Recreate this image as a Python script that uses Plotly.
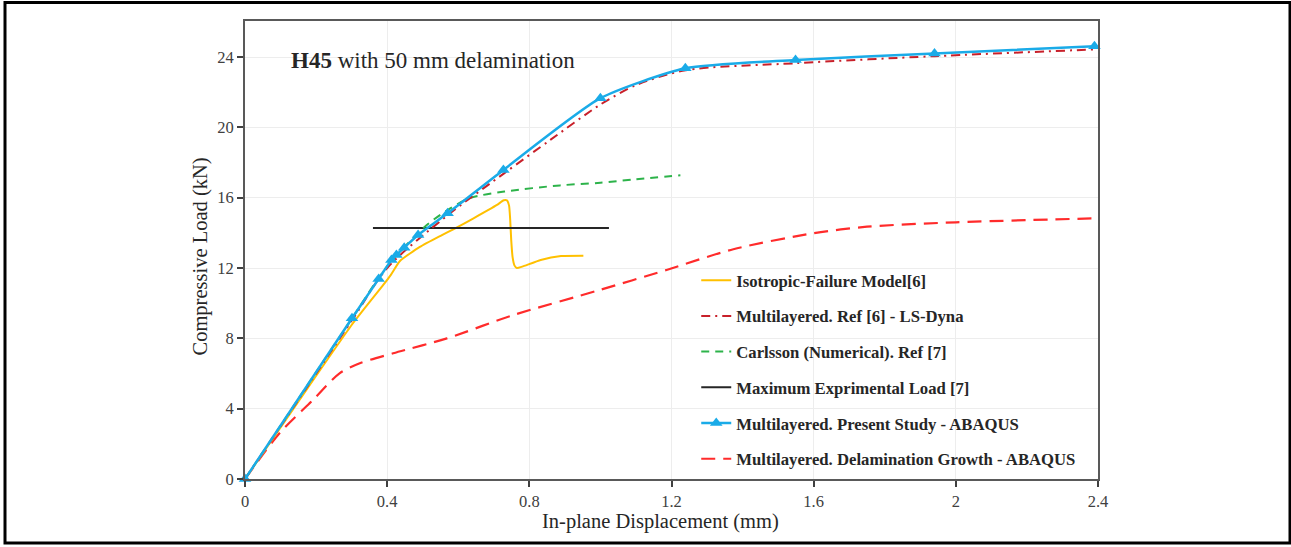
import plotly.graph_objects as go

# ---- data ----
iso_x = [0, 0.15, 0.30, 0.389, 0.41, 0.436, 0.492, 0.549, 0.586, 0.643, 0.709, 0.728, 0.737, 0.743, 0.746, 0.749, 0.753, 0.758, 0.765, 0.78, 0.832, 0.889, 0.952]
iso_y = [0, 4.4, 8.76, 11.04, 11.6, 12.4, 13.2, 13.82, 14.2, 14.83, 15.59, 15.85, 15.85, 15.55, 14.8, 13.6, 12.6, 12.15, 12.0, 12.08, 12.46, 12.68, 12.7]

dyna_x = [0, 0.30, 0.40, 0.57, 0.73, 0.86, 1.0, 1.1, 1.24, 1.55, 1.94, 2.4]
dyna_y = [0, 9.0, 12.0, 15.0, 17.4, 19.3, 21.3, 22.4, 23.25, 23.65, 24.05, 24.44]

carl_x = [0, 0.30, 0.40, 0.506, 0.57, 0.633, 0.73, 0.886, 1.0, 1.1, 1.225]
carl_y = [0, 9.1, 12.1, 14.35, 15.3, 15.98, 16.35, 16.7, 16.85, 17.05, 17.27]

exp_x = [0.36, 1.024]
exp_y = [14.28, 14.28]

abq_x = [0, 0.301, 0.376, 0.412, 0.426, 0.448, 0.487, 0.570, 0.727, 1.0, 1.239, 1.549, 1.94, 2.39]
abq_y = [0, 9.14, 11.38, 12.46, 12.74, 13.16, 13.88, 15.11, 17.58, 21.66, 23.36, 23.83, 24.2, 24.62]

delam_x = [0, 0.097, 0.191, 0.266, 0.323, 0.417, 0.568, 0.756, 0.998, 1.186, 1.374, 1.6, 1.75, 2.0, 2.4]
delam_y = [0, 2.6, 4.49, 6.01, 6.58, 7.15, 8.0, 9.33, 10.75, 11.89, 13.07, 13.98, 14.35, 14.6, 14.83]

x_ticks = [0, 0.4, 0.8, 1.2, 1.6, 2, 2.4]
y_ticks = [0, 4, 8, 12, 16, 20, 24]

names = [
    "Isotropic-Failure Model[6]",
    "Multilayered. Ref [6] - LS-Dyna",
    "Carlsson (Numerical). Ref [7]",
    "Maximum Exprimental Load [7]",
    "Multilayered. Present Study - ABAQUS",
    "Multilayered. Delamination Growth - ABAQUS",
]

fig = go.Figure()

fig.add_trace(go.Scatter(x=delam_x, y=delam_y, mode="lines", name=names[5],
                         line=dict(color="#FF2B2B", width=2.2, dash="14px,8px", shape="spline", smoothing=0.8),
                         legendrank=6, legendgroup="g6"))
fig.add_trace(go.Scatter(x=iso_x, y=iso_y, mode="lines", name=names[0],
                         line=dict(color="#FFC000", width=2, shape="spline", smoothing=0.5),
                         legendrank=1, legendgroup="g1"))
fig.add_trace(go.Scatter(x=exp_x, y=exp_y, mode="lines", name=names[3],
                         line=dict(color="#262626", width=2),
                         legendrank=4, legendgroup="g4"))
fig.add_trace(go.Scatter(x=carl_x, y=carl_y, mode="lines", name=names[2],
                         line=dict(color="#2DB34A", width=2, dash="8px,6px", shape="spline", smoothing=0.8),
                         legendrank=3, legendgroup="g3"))
fig.add_trace(go.Scatter(x=dyna_x, y=dyna_y, mode="lines", name=names[1],
                         line=dict(color="#C8202A", width=2, dash="9px,5px,2px,5px", shape="spline", smoothing=0.8),
                         legendrank=2, legendgroup="g2"))
fig.add_trace(go.Scatter(x=abq_x, y=abq_y, mode="lines+markers", name=names[4],
                         line=dict(color="#1AABE8", width=2.5, shape="spline", smoothing=0.6),
                         marker=dict(symbol="triangle-up", size=11, color="#1AABE8"),
                         cliponaxis=False,
                         legendrank=5, legendgroup="g5"))

axis_common = dict(
    showline=True, linecolor="#595959", linewidth=1.8, mirror=True,
    showgrid=True, gridcolor="#EDEDED", gridwidth=1,
    ticks="outside", ticklen=6, tickcolor="#404040", tickwidth=1.5,
    tickfont=dict(family="Liberation Serif", size=16.5, color="#404040"),
    zeroline=False,
)

fig.update_xaxes(range=[0, 2.4], tickvals=x_ticks, ticktext=[str(v) for v in x_ticks], **axis_common)
fig.update_yaxes(range=[0, 26.05], tickvals=y_ticks, ticktext=[str(v) for v in y_ticks], **axis_common)

# geometry helpers (pixel -> paper)
W, H = 1291, 547
L, R, T, B = 245, 193, 21, 68
pw, ph = W - L - R, H - T - B
def px2x(p): return (p - L) / pw
def py2y(p): return (H - B - p) / ph

title_font = dict(family="Liberation Serif", size=20.5, color="#262626")
fig.add_annotation(x=px2x(660.5), y=py2y(521), xref="paper", yref="paper",
                   xanchor="center", yanchor="middle", showarrow=False,
                   text="In-plane Displacement (mm)", font=title_font)
fig.add_annotation(x=px2x(200), y=py2y(256.5), xref="paper", yref="paper",
                   xanchor="center", yanchor="middle", showarrow=False, textangle=-90,
                   text="Compressive Load (kN)", font=title_font)

fig.add_annotation(x=px2x(289), y=py2y(60), xref="paper", yref="paper", xanchor="left", yanchor="middle",
                   text="<b>H45</b> with 50 mm delamination", showarrow=False,
                   font=dict(family="Liberation Serif", size=23, color="#262626"))

# outer frame of the picture
fig.add_shape(type="rect", xref="paper", yref="paper",
              x0=px2x(5), x1=px2x(1290), y0=py2y(543), y1=py2y(2.5),
              line=dict(color="black", width=3), fillcolor="rgba(0,0,0,0)")

fig.update_layout(
    width=W, height=H,
    margin=dict(l=L, r=R, t=T, b=B),
    paper_bgcolor="white", plot_bgcolor="white",
    showlegend=True,
    legend=dict(x=0.529, y=0.472, xanchor="left", yanchor="top",
                traceorder="grouped", tracegroupgap=11,
                bgcolor="rgba(0,0,0,0)",
                font=dict(family="Liberation Serif", size=16.7, color="#262626", weight="bold")),
)

fig.write_html("out.html")
